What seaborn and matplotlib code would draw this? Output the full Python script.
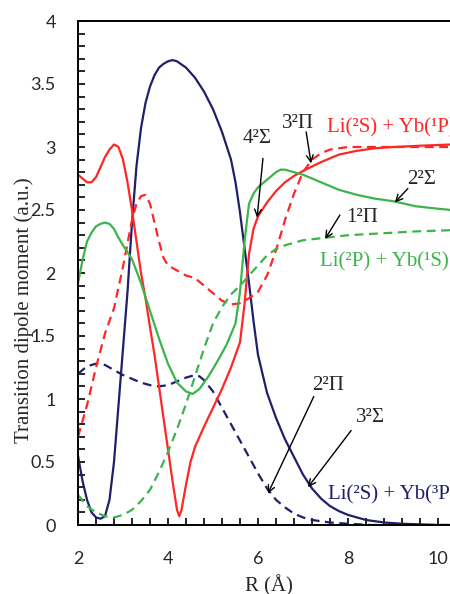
import matplotlib
matplotlib.use("Agg")
import matplotlib.pyplot as plt
import seaborn as sns
from matplotlib.ticker import MultipleLocator

# ---- data ----
# Li(2S)+Yb(3P): 3^2Sigma (solid navy)
x_s3 = [2.0, 2.1, 2.2, 2.3, 2.4, 2.5, 2.6, 2.7, 2.8, 2.9, 3.0, 3.1, 3.2, 3.3, 3.4, 3.5, 3.6, 3.7, 3.8, 3.9,
        4.0, 4.1, 4.2, 4.4, 4.6, 4.8, 5.0, 5.2, 5.4, 5.5, 5.6, 5.7, 5.8, 5.9, 6.0, 6.2, 6.4, 6.6, 6.8, 7.0,
        7.2, 7.4, 7.6, 7.8, 8.0, 8.4, 8.8, 9.2, 9.6, 10.0, 10.3]
y_s3 = [0.55, 0.35, 0.2, 0.1, 0.06, 0.05, 0.07, 0.2, 0.5, 0.95, 1.4, 1.85, 2.4, 2.85, 3.15, 3.35, 3.48, 3.57, 3.63, 3.66,
        3.68, 3.69, 3.68, 3.63, 3.55, 3.44, 3.3, 3.12, 2.9, 2.72, 2.48, 2.2, 1.92, 1.62, 1.35, 1.05, 0.85, 0.68, 0.54, 0.4,
        0.29, 0.21, 0.15, 0.11, 0.08, 0.04, 0.02, 0.01, 0.005, 0.0, 0.0]
# 2^2Pi (dashed navy)
x_p2 = [2.0, 2.2, 2.4, 2.6, 2.8, 3.0, 3.2, 3.4, 3.6, 3.8, 4.0, 4.2, 4.4, 4.6, 4.7, 4.8, 5.0, 5.2, 5.4, 5.6,
        5.8, 6.0, 6.2, 6.4, 6.6, 6.8, 7.0, 7.2, 7.6, 8.0, 8.5, 10.3]
y_p2 = [1.2, 1.26, 1.28, 1.27, 1.23, 1.19, 1.16, 1.13, 1.11, 1.1, 1.11, 1.14, 1.17, 1.19, 1.18, 1.15, 1.06, 0.93, 0.8, 0.67,
        0.54, 0.41, 0.29, 0.2, 0.14, 0.09, 0.06, 0.04, 0.02, 0.01, 0.0, 0.0]
# Li(2S)+Yb(1P): 4^2Sigma (solid red)
x_s4 = [2.0, 2.1, 2.2, 2.3, 2.4, 2.5, 2.6, 2.7, 2.8, 2.9, 3.0, 3.1, 3.2, 3.3, 3.4, 3.5, 3.6, 3.7, 3.8, 3.9,
        4.0, 4.1, 4.2, 4.25, 4.3, 4.4, 4.5, 4.6, 4.8, 5.0, 5.2, 5.4, 5.5, 5.6, 5.7, 5.8, 5.9, 6.0, 6.2, 6.4,
        6.6, 6.8, 7.0, 7.4, 7.8, 8.2, 8.6, 9.0, 9.6, 10.3]
y_s4 = [2.78, 2.75, 2.72, 2.72, 2.76, 2.84, 2.92, 2.98, 3.02, 3.0, 2.9, 2.72, 2.5, 2.25, 2.0, 1.8, 1.57, 1.35, 1.1, 0.85,
        0.6, 0.35, 0.12, 0.07, 0.12, 0.32, 0.5, 0.62, 0.78, 0.93, 1.08, 1.25, 1.35, 1.45, 1.75, 2.15, 2.35, 2.45, 2.56, 2.65,
        2.72, 2.77, 2.81, 2.88, 2.94, 2.97, 2.99, 3.0, 3.01, 3.02]
# 3^2Pi (dashed red)
x_p3 = [2.0, 2.2, 2.4, 2.6, 2.8, 3.0, 3.2, 3.3, 3.4, 3.5, 3.6, 3.7, 3.8, 3.9, 4.0, 4.2, 4.4, 4.6, 4.8, 5.0,
        5.2, 5.4, 5.6, 5.8, 6.0, 6.2, 6.4, 6.6, 6.8, 7.0, 7.2, 7.4, 7.6, 8.0, 9.0, 10.3]
y_p3 = [0.7, 0.95, 1.25, 1.52, 1.72, 2.05, 2.42, 2.55, 2.61, 2.62, 2.55, 2.4, 2.25, 2.12, 2.06, 2.02, 1.98, 1.96, 1.9, 1.84,
        1.78, 1.75, 1.76, 1.8, 1.85, 1.98, 2.18, 2.42, 2.63, 2.8, 2.9, 2.95, 2.98, 3.0, 3.0, 3.0]
# Li(2P)+Yb(1S): 2^2Sigma (solid green)
x_s2 = [2.0, 2.1, 2.2, 2.3, 2.4, 2.5, 2.6, 2.7, 2.8, 2.9, 3.0, 3.2, 3.4, 3.6, 3.8, 4.0, 4.2, 4.4, 4.55, 4.7,
        4.9, 5.1, 5.3, 5.5, 5.6, 5.7, 5.8, 5.9, 6.0, 6.2, 6.4, 6.5, 6.6, 6.8, 7.0, 7.4, 7.8, 8.2, 8.6, 9.0,
        9.5, 10.0, 10.3]
y_s2 = [1.92, 2.1, 2.25, 2.32, 2.37, 2.39, 2.4, 2.39, 2.35, 2.28, 2.22, 2.11, 1.92, 1.7, 1.48, 1.28, 1.13, 1.06, 1.04, 1.08,
        1.18, 1.3, 1.43, 1.6, 1.85, 2.25, 2.55, 2.63, 2.68, 2.74, 2.8, 2.82, 2.82, 2.8, 2.78, 2.72, 2.66, 2.62, 2.59, 2.57,
        2.53, 2.51, 2.5]
# 1^2Pi (dashed green)
x_p1 = [2.0, 2.2, 2.4, 2.6, 2.8, 3.0, 3.2, 3.4, 3.6, 3.8, 4.0, 4.2, 4.4, 4.6, 4.8, 5.0, 5.2, 5.4, 5.6, 5.8,
        6.0, 6.2, 6.4, 6.6, 6.8, 7.0, 7.5, 8.0, 8.5, 9.0, 9.5, 10.3]
y_p1 = [0.24, 0.15, 0.1, 0.07, 0.06, 0.08, 0.12, 0.19, 0.28, 0.42, 0.58, 0.76, 0.96, 1.18, 1.4, 1.6, 1.73, 1.83, 1.9, 1.98,
        2.06, 2.14, 2.19, 2.22, 2.24, 2.26, 2.28, 2.3, 2.31, 2.32, 2.33, 2.34]

x_ticks = [2, 4, 6, 8, 10]
y_ticks = [0, 0.5, 1, 1.5, 2, 2.5, 3, 3.5, 4]
y_tick_labels = ["0", "0.5", "1", "1.5", "2", "2.5", "3", "3.5", "4"]

NAVY = "#1f1f6b"
RED = "#ff2626"
GREEN = "#3cb44b"

sns.set_style("white")
plt.rcParams["font.family"] = ["Lato", "DejaVu Sans"]
SERIF = ["Liberation Serif", "DejaVu Serif"]

fig = plt.figure(figsize=(4.5, 5.94), dpi=100)
ax = fig.add_axes([78 / 450, 69 / 594, 372 / 450, 504 / 594])

dash = (0, (4, 2.5))
lw = 1.6
sns.lineplot(x=x_s3, y=y_s3, ax=ax, color=NAVY, lw=lw)
sns.lineplot(x=x_p2, y=y_p2, ax=ax, color=NAVY, lw=lw, linestyle=dash)
sns.lineplot(x=x_s4, y=y_s4, ax=ax, color=RED, lw=lw)
sns.lineplot(x=x_p3, y=y_p3, ax=ax, color=RED, lw=lw, linestyle=dash)
sns.lineplot(x=x_s2, y=y_s2, ax=ax, color=GREEN, lw=lw)
sns.lineplot(x=x_p1, y=y_p1, ax=ax, color=GREEN, lw=lw, linestyle=dash)

ax.set_xlim(2, 2 + 372 / 45)
ax.set_ylim(0, 4)
ax.set_xticks(x_ticks)
ax.set_xticklabels([str(t) for t in x_ticks])
ax.set_yticks(y_ticks)
ax.set_yticklabels(y_tick_labels)
ax.xaxis.set_minor_locator(MultipleLocator(0.4))
ax.yaxis.set_minor_locator(MultipleLocator(0.1))
ax.tick_params(axis="both", which="both", direction="in", length=5, width=1.2, color="black",
               top=False, right=False, bottom=True, left=True)
ax.tick_params(axis="x", which="major", pad=19, labelsize=13)
ax.tick_params(axis="y", which="major", pad=16, labelsize=13)
for side in ["left", "bottom", "top"]:
    ax.spines[side].set_linewidth(1.4)
    ax.spines[side].set_color("black")
ax.spines["right"].set_visible(False)

ax.set_xlabel("R (Å)", family=SERIF, fontsize=15)
ax.set_ylabel("Transition dipole moment (a.u.)", family=SERIF, fontsize=15)
ax.xaxis.set_label_coords(0.513, -0.1)
ax.yaxis.set_label_coords(-0.118, 0.427)

afs = 15
arrow = dict(arrowstyle="->", lw=1.0, color="black", mutation_scale=12, shrinkA=0, shrinkB=0)

ax.text(5.98, 3.07, "4²Σ", family=SERIF, fontsize=afs, ha="center", va="center")
ax.annotate("", xy=(5.98, 2.44), xytext=(6.11, 2.91), arrowprops=arrow)
ax.text(6.89, 3.19, "3²Π", family=SERIF, fontsize=afs, ha="center", va="center")
ax.annotate("", xy=(7.18, 2.87), xytext=(7.07, 3.12), arrowprops=arrow)
ax.text(7.53, 3.15, "Li(²S) + Yb(¹P)", family=SERIF, fontsize=afs, color=RED, ha="left", va="center")
ax.text(9.64, 2.74, "2²Σ", family=SERIF, fontsize=afs, ha="center", va="center")
ax.annotate("", xy=(9.04, 2.56), xytext=(9.33, 2.67), arrowprops=arrow)
ax.text(8.31, 2.44, "1²Π", family=SERIF, fontsize=afs, ha="center", va="center")
ax.annotate("", xy=(7.49, 2.27), xytext=(7.82, 2.46), arrowprops=arrow)
ax.text(7.38, 2.09, "Li(²P) + Yb(¹S)", family=SERIF, fontsize=afs, color=GREEN, ha="left", va="center")
ax.text(7.56, 1.11, "2²Π", family=SERIF, fontsize=afs, ha="center", va="center")
ax.annotate("", xy=(6.22, 0.25), xytext=(7.24, 1.02), arrowprops=arrow)
ax.text(8.49, 0.85, "3²Σ", family=SERIF, fontsize=afs, ha="center", va="center")
ax.annotate("", xy=(7.11, 0.30), xytext=(8.07, 0.75), arrowprops=arrow)
ax.text(7.56, 0.24, "Li(²S) + Yb(³P)", family=SERIF, fontsize=afs, color=NAVY, ha="left", va="center")

fig.savefig("out.png", dpi=100, facecolor="white")
